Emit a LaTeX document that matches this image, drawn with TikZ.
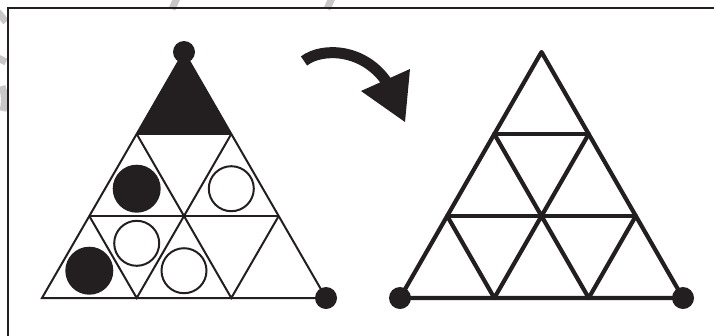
\documentclass[tikz,border=0pt]{standalone}
\definecolor{ink}{HTML}{231F20}
\definecolor{wm}{HTML}{C8C8C8}
\tikzset{
  thinline/.style={draw=ink, line width=2pt, line join=miter},
  thickline/.style={draw=ink, line width=4.2pt, line cap=round, line join=round},
  openring/.style={draw=ink, line width=2pt, fill=white},
  watermark/.style={draw=wm, line width=7pt}
}
\begin{document}
\begin{tikzpicture}[x=1pt,y=-1pt]
\useasboundingbox (0,0) rectangle (714,335);
% watermark strokes
\draw[watermark] (-2,12) -- (6,22);
\draw[watermark] (-2,58) -- (6,62);
\draw[watermark] (2,86) .. controls (5,95) and (5,103) .. (3,111);
\draw[watermark] (177,-2) -- (172,9);
\draw[watermark] (332,-2) -- (327,9);
% frame
\draw[ink, line width=1.6pt] (8,340) -- (8,8) -- (720,8);

% ---------- left triangle ----------
\coordinate (LA) at (184,52);
\coordinate (L10) at (136.7,134); \coordinate (L11) at (231.3,134);
\coordinate (L20) at (89.3,216); \coordinate (L21) at (184,216); \coordinate (L22) at (278.7,216);
\coordinate (L30) at (42,298); \coordinate (L31) at (136.7,298); \coordinate (L32) at (231.3,298); \coordinate (L33) at (326,298);
\fill[ink] (LA) -- (L10) -- (L11) -- cycle;
\draw[thinline] (LA) -- (L30) -- (L33) -- cycle;
\draw[thinline] (L10) -- (L11);
\draw[thinline] (L20) -- (L22);
\draw[thinline] (L10) -- (L21) -- (L11);
\draw[thinline] (L20) -- (L31) -- (L21) -- (L32) -- (L22);
% circles
\fill[ink] (136.7,188.7) circle (24);
\draw[openring] (231.3,188.7) circle (22.5);
\fill[ink] (89.3,270.7) circle (24);
\draw[openring] (136.7,243.3) circle (22.5);
\draw[openring] (184,270.7) circle (22.5);
% dots
\fill[ink] (LA) circle (11);
\fill[ink] (L33) circle (11);

% ---------- arrow ----------
\coordinate (AS) at (304,61);
\coordinate (AE) at (388,84);
\draw[ink, line width=11pt] (AS) .. controls (322,47) and (365,48) .. (AE);
\fill[ink] (361,91) -- (410,69) -- (405,122) -- cycle;

% ---------- right triangle ----------
\coordinate (RA) at (541.5,52);
\coordinate (R10) at (494.3,134); \coordinate (R11) at (588.7,134);
\coordinate (R20) at (447.2,216); \coordinate (R21) at (541.5,216); \coordinate (R22) at (635.8,216);
\coordinate (R30) at (400,298); \coordinate (R31) at (494.3,298); \coordinate (R32) at (588.7,298); \coordinate (R33) at (683,298);
\draw[thickline] (RA) -- (R30) -- (R33) -- cycle;
\draw[thickline] (R10) -- (R11);
\draw[thickline] (R20) -- (R22);
\draw[thickline] (R10) -- (R21) -- (R11);
\draw[thickline] (R20) -- (R31) -- (R21) -- (R32) -- (R22);
\fill[ink] (R30) circle (11);
\fill[ink] (R33) circle (11);
\end{tikzpicture}
\end{document}
